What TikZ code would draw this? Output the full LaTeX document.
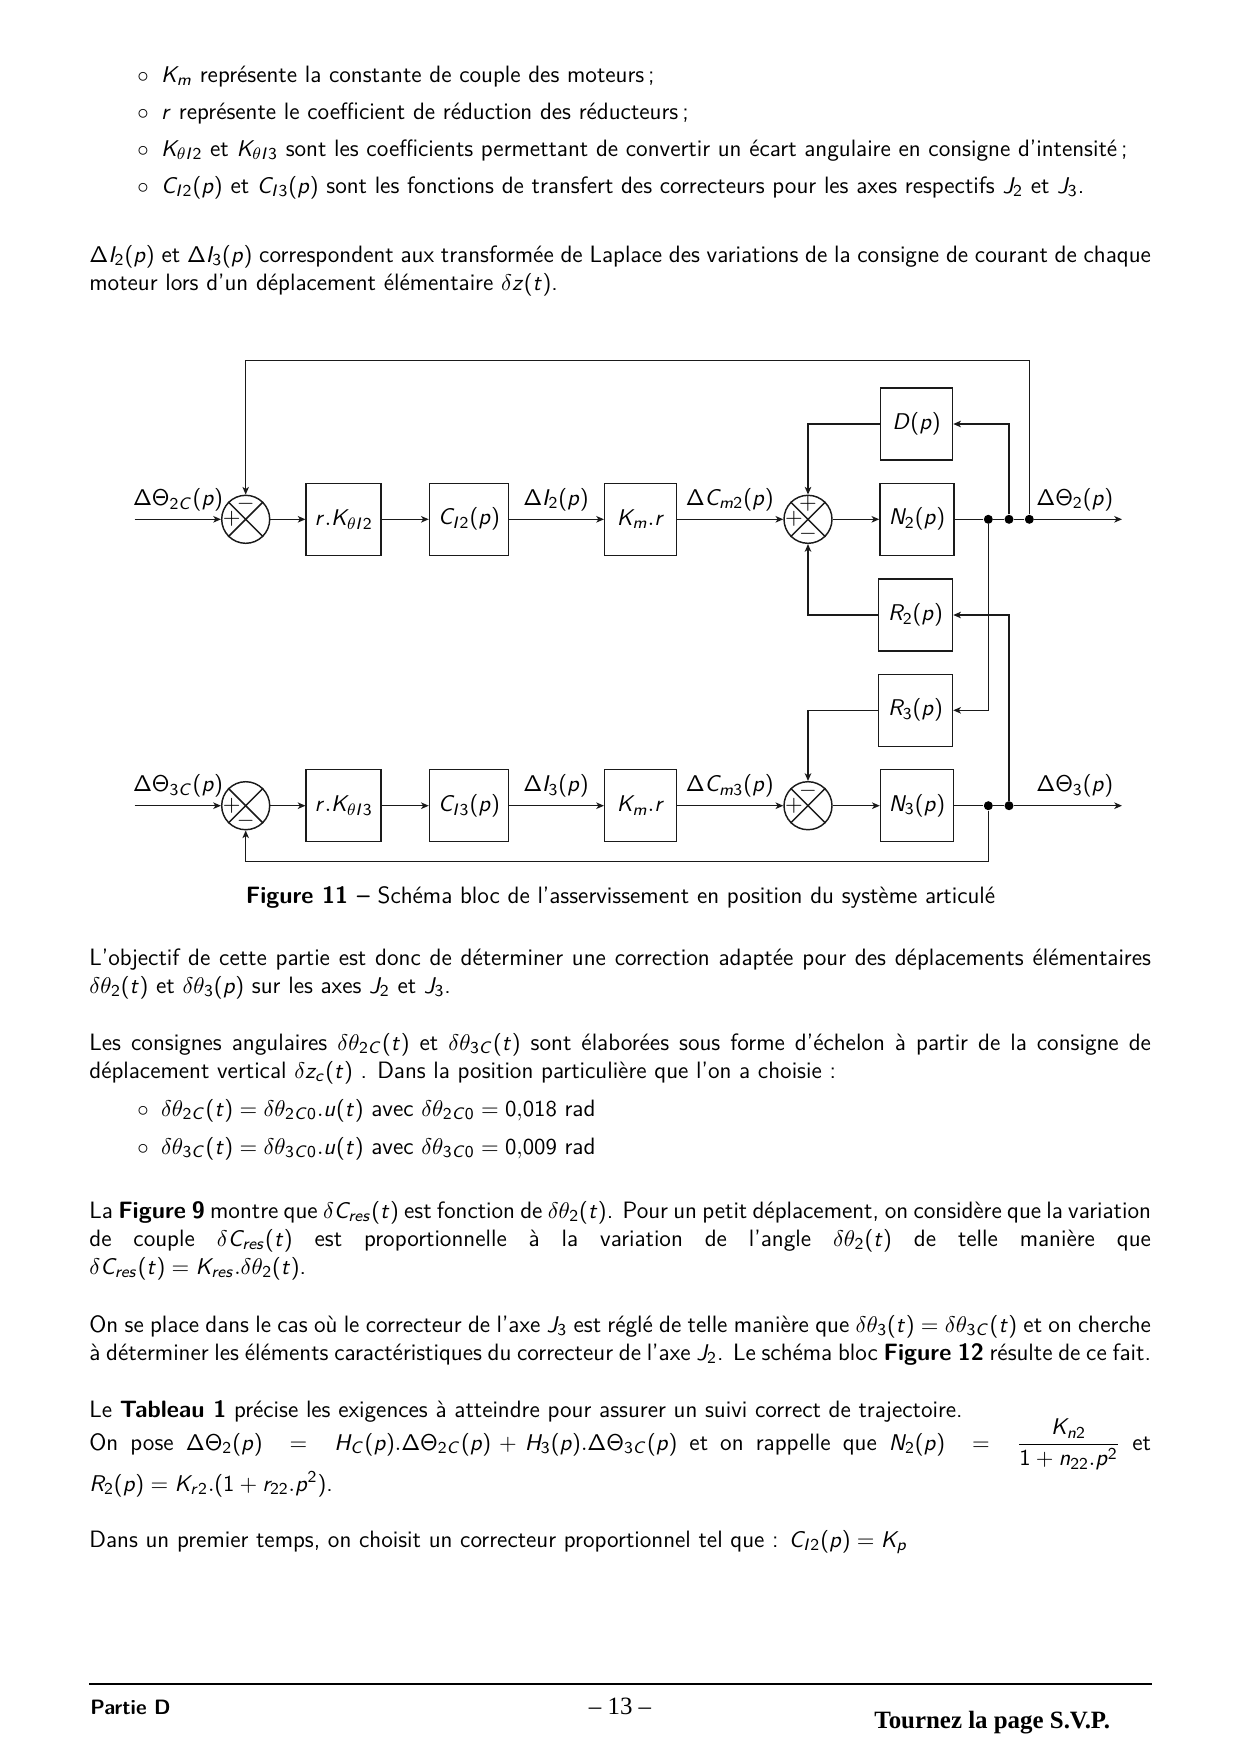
\documentclass[tikz,border=0pt]{standalone}
\usepackage{amsmath}
\usepackage[no-math]{fontspec}
\usetikzlibrary{arrows.meta,calc,positioning}
\newfontfamily\timesfont{Liberation Serif}
\renewcommand{\familydefault}{\sfdefault}
% lettres et chiffres sans empattement dans les formules
\DeclareSymbolFont{sflet}{OT1}{cmss}{m}{sl}
\DeclareSymbolFont{sfup}{OT1}{cmss}{m}{n}
\newcommand{\lettresf}[1]{\DeclareMathSymbol{#1}{\mathalpha}{sflet}{`#1}}
\newcommand{\droitsf}[1]{\DeclareMathSymbol{#1}{\mathalpha}{sfup}{`#1}}
\lettresf{C}\lettresf{D}\lettresf{H}\lettresf{I}\lettresf{J}\lettresf{K}\lettresf{N}\lettresf{R}
\lettresf{c}\lettresf{e}\lettresf{m}\lettresf{n}\lettresf{p}\lettresf{r}\lettresf{s}\lettresf{t}\lettresf{u}\lettresf{z}
\droitsf{0}\droitsf{1}\droitsf{2}\droitsf{3}\droitsf{8}\droitsf{9}
\DeclareMathSymbol{(}{\mathopen}{sfup}{`(}
\DeclareMathSymbol{)}{\mathclose}{sfup}{`)}
\DeclareMathSymbol{+}{\mathbin}{sfup}{`+}
\DeclareMathSymbol{=}{\mathrel}{sfup}{`=}
\DeclareMathSymbol{\Delta}{\mathalpha}{sfup}{1}
\DeclareMathSymbol{\Theta}{\mathalpha}{sfup}{2}
\definecolor{trait}{HTML}{1A1A1A}
\newcommand{\pxu}{0.016935cm}
\newcommand{\largeur}{17.98cm}
\newcommand{\puce}{\makebox[0.40cm][l]{$\circ$}}
\newcommand{\corps}{\fontsize{11.4}{13.6}\selectfont}
\tikzset{
  bloc/.style={draw=trait,line width=0.7pt,inner sep=0pt,minimum height=72*\pxu,font=\corps},
  somme/.style={draw=trait,line width=0.7pt,circle,inner sep=0pt,minimum size=48*\pxu},
  signe/.style={inner sep=0pt,font=\corps},
  point/.style={circle,fill=black,inner sep=0pt,minimum size=9*\pxu},
  libelle/.style={anchor=base,inner sep=0pt,font=\corps},
  ligne/.style={anchor=base west,inner sep=0pt,font=\corps},
  para/.style={ligne,text width=\largeur,align=justify},
  fleche/.style={-{Stealth[length=0.13cm,width=0.11cm,inset=0.035cm]},draw=trait,line width=0.7pt},
  lien/.style={draw=trait,line width=0.7pt}
}
\begin{document}
\begin{tikzpicture}[x=\pxu,y=-\pxu]
  \useasboundingbox (0,0) rectangle (1240,1754);

  % texte du haut
  \node[ligne] (lista) at (137,82) {\puce$K_m$ représente la constante de couple des moteurs\,;};
  \node[ligne] (listb) at (137,119) {\puce$r$ représente le coefficient de réduction des réducteurs\,;};
  \node[ligne] (listc) at (137,156) {\puce$K_{\theta I2}$ et $K_{\theta I3}$ sont les coefficients permettant de convertir un écart angulaire en consigne d’intensité\,;};
  \node[ligne] (listd) at (137,193) {\puce$C_{I2}(p)$ et $C_{I3}(p)$ sont les fonctions de transfert des correcteurs pour les axes respectifs $J_2$ et $J_3$.};
  \node[para] (intro) at (89,262) {$\Delta I_2(p)$ et $\Delta I_3(p)$ correspondent aux transformée de Laplace des variations de la consigne de courant de chaque\linebreak moteur lors d’un déplacement élémentaire $\delta z(t)$.};

  % chaine du haut
  \node[somme] (sa) at (245.7,519.3) {};
  \node[bloc,minimum width=75*\pxu] (rka) at (343.7,519.3) {$r.K_{\theta I2}$};
  \node[bloc,minimum width=79*\pxu] (cia) at (469,519.3) {$C_{I2}(p)$};
  \node[bloc,minimum width=72*\pxu] (kma) at (640.7,519.3) {$K_m.r$};
  \node[somme] (sb) at (808,519.3) {};
  \node[bloc,minimum width=74*\pxu] (na) at (917,519.3) {$N_2(p)$};
  \node[bloc,minimum width=72*\pxu] (dp) at (916.5,424) {$D(p)$};
  \node[bloc,minimum width=74*\pxu] (ra) at (915.5,615) {$R_2(p)$};
  \node[bloc,minimum width=74*\pxu] (rb) at (915.5,710.3) {$R_3(p)$};
  \node[point] (pa) at (988.3,519.3) {};
  \node[point] (pb) at (1009,519.3) {};
  \node[point] (pc) at (1029.3,519.3) {};
  \coordinate (ina) at (134.6,519.3);
  \coordinate (outa) at (1122,519.3);
  \coordinate (coina) at (1029.3,360.7);

  % chaine du bas
  \node[somme] (sc) at (245.7,805.7) {};
  \node[bloc,minimum width=75*\pxu] (rkb) at (343.7,805.7) {$r.K_{\theta I3}$};
  \node[bloc,minimum width=79*\pxu] (cib) at (469,805.7) {$C_{I3}(p)$};
  \node[bloc,minimum width=72*\pxu] (kmb) at (640.7,805.7) {$K_m.r$};
  \node[somme] (sd) at (808,805.7) {};
  \node[bloc,minimum width=73*\pxu] (nb) at (917,805.7) {$N_3(p)$};
  \node[point] (pd) at (988.3,805.7) {};
  \node[point] (pe) at (1009,805.7) {};
  \coordinate (inb) at (134.6,805.7);
  \coordinate (outb) at (1122,805.7);
  \coordinate (coinb) at (988.3,861.7);

  \foreach \s in {sa,sb,sc,sd} {
    \draw[lien] (\s.45) -- (\s.225) (\s.135) -- (\s.-45);
  }

  % signes
  \node[signe] (saa) at ($(sa)+(-14,0)$) {$+$};
  \node[signe] (sab) at ($(sa)+(0,-15)$) {$-$};
  \node[signe] (sba) at ($(sb)+(-14,0)$) {$+$};
  \node[signe] (sbb) at ($(sb)+(0,-15)$) {$+$};
  \node[signe] (sbc) at ($(sb)+(0,15)$) {$-$};
  \node[signe] (sca) at ($(sc)+(-14,0)$) {$+$};
  \node[signe] (scb) at ($(sc)+(0,15)$) {$-$};
  \node[signe] (sda) at ($(sd)+(-14,0)$) {$+$};
  \node[signe] (sdb) at ($(sd)+(0,-15)$) {$-$};

  % liaisons
  \draw[fleche] (ina) -- (sa);
  \draw[fleche] (sa) -- (rka);
  \draw[fleche] (rka) -- (cia);
  \draw[fleche] (cia) -- (kma);
  \draw[fleche] (kma) -- (sb);
  \draw[fleche] (sb) -- (na);
  \draw[lien] (na) -- (pa) -- (pb) -- (pc);
  \draw[fleche] (pc) -- (outa);
  \draw[fleche] (pc) -- (coina) -| (sa.north);
  \draw[fleche] (pb) |- (dp.east);
  \draw[fleche] (dp.west) -| (sb.north);
  \draw[fleche] (ra.west) -| (sb.south);
  \draw[fleche] (pe) |- (ra.east);
  \draw[fleche] (pa) |- (rb.east);
  \draw[fleche] (rb.west) -| (sd.north);
  \draw[fleche] (inb) -- (sc);
  \draw[fleche] (sc) -- (rkb);
  \draw[fleche] (rkb) -- (cib);
  \draw[fleche] (cib) -- (kmb);
  \draw[fleche] (kmb) -- (sd);
  \draw[fleche] (sd) -- (nb);
  \draw[lien] (nb) -- (pd) -- (pe);
  \draw[fleche] (pe) -- (outb);
  \draw[fleche] (pd) -- (coinb) -| (sc.south);

  % libelles
  \node[libelle] (lia) at (178,505.3) {$\Delta\Theta_{2C}(p)$};
  \node[libelle] (lib) at (556,505.3) {$\Delta I_2(p)$};
  \node[libelle] (lic) at (729.7,505.3) {$\Delta C_{m2}(p)$};
  \node[libelle] (lid) at (1074.7,505.3) {$\Delta\Theta_2(p)$};
  \node[libelle] (lie) at (178,791.7) {$\Delta\Theta_{3C}(p)$};
  \node[libelle] (lif) at (556,791.7) {$\Delta I_3(p)$};
  \node[libelle] (lig) at (729.7,791.7) {$\Delta C_{m3}(p)$};
  \node[libelle] (lih) at (1074.7,791.7) {$\Delta\Theta_3(p)$};

  \node[libelle] (legende) at (620.5,903.5) {\textbf{Figure 11 --} Schéma bloc de l’asservissement en position du système articulé};

  % texte du bas
  \node[para] (obj) at (89,965) {L’objectif de cette partie est donc de déterminer une correction adaptée pour des déplacements élémentaires\linebreak $\delta\theta_2(t)$ et $\delta\theta_3(p)$ sur les axes $J_2$ et $J_3$.};
  \node[para] (cons) at (89,1050) {Les consignes angulaires $\delta\theta_{2C}(t)$ et $\delta\theta_{3C}(t)$ sont élaborées sous forme d’échelon à partir de la consigne de\linebreak déplacement vertical $\delta z_c(t)$ . Dans la position particulière que l’on a choisie :};
  \node[ligne] (liste) at (137,1116) {\puce$\delta\theta_{2C}(t)=\delta\theta_{2C0}.u(t)$ avec $\delta\theta_{2C0}=0{,}018$ rad};
  \node[ligne] (listf) at (137,1154) {\puce$\delta\theta_{3C}(t)=\delta\theta_{3C0}.u(t)$ avec $\delta\theta_{3C0}=0{,}009$ rad};
  \node[para] (fig) at (89,1218) {La \textbf{Figure 9} montre que $\delta C_{res}(t)$ est fonction de $\delta\theta_2(t)$. Pour un petit déplacement, on considère que la variation\linebreak de couple $\delta C_{res}(t)$ est proportionnelle à la variation de l’angle $\delta\theta_2(t)$ de telle manière que\linebreak $\delta C_{res}(t)=K_{res}.\delta\theta_2(t)$.};
  \node[ligne] (cas) at (89,1332) {\hbox to \largeur{On se place dans le cas où le correcteur de l’axe $J_3$ est réglé de telle manière que $\delta\theta_3(t)=\delta\theta_{3C}(t)$ et on cherche}};
  \node[ligne] (casb) at (89,1360) {\hbox to \largeur{à déterminer les éléments caractéristiques du correcteur de l’axe $J_2$. Le schéma bloc \textbf{Figure 12} résulte de ce fait.}};
  \node[ligne] (tab) at (89,1417) {Le \textbf{Tableau 1} précise les exigences à atteindre pour assurer un suivi correct de trajectoire.};
  \node[ligne] (pose) at (89,1450) {\hbox to \largeur{On pose $\Delta\Theta_2(p)\;=\;H_C(p).\Delta\Theta_{2C}(p)+H_3(p).\Delta\Theta_{3C}(p)$ et on rappelle que $N_2(p)\;=\;\dfrac{K_{n2}}{1+n_{22}.p^2}$ et}};
  \node[ligne] (rap) at (89,1491) {$R_2(p)=K_{r2}.(1+r_{22}.p^2)$.};
  \node[ligne] (dans) at (89,1547) {Dans un premier temps, on choisit un correcteur proportionnel tel que : $C_{I2}(p)=K_p$};

  % pied de page
  \coordinate (rega) at (89,1683.7);
  \coordinate (regb) at (1152,1683.7);
  \draw[black,line width=0.8pt] (rega) -- (regb);
  \node[ligne,font=\fontsize{10}{12}\selectfont] (partie) at (90,1714.5) {\textbf{Partie D}};
  \node[libelle,font=\timesfont\fontsize{12}{14}\selectfont] (page) at (620,1714) {– 13 –};
  \node[ligne,font=\timesfont\bfseries\fontsize{12}{14}\selectfont] (svp) at (874,1728) {Tournez la page S.V.P.};
\end{tikzpicture}
\end{document}
